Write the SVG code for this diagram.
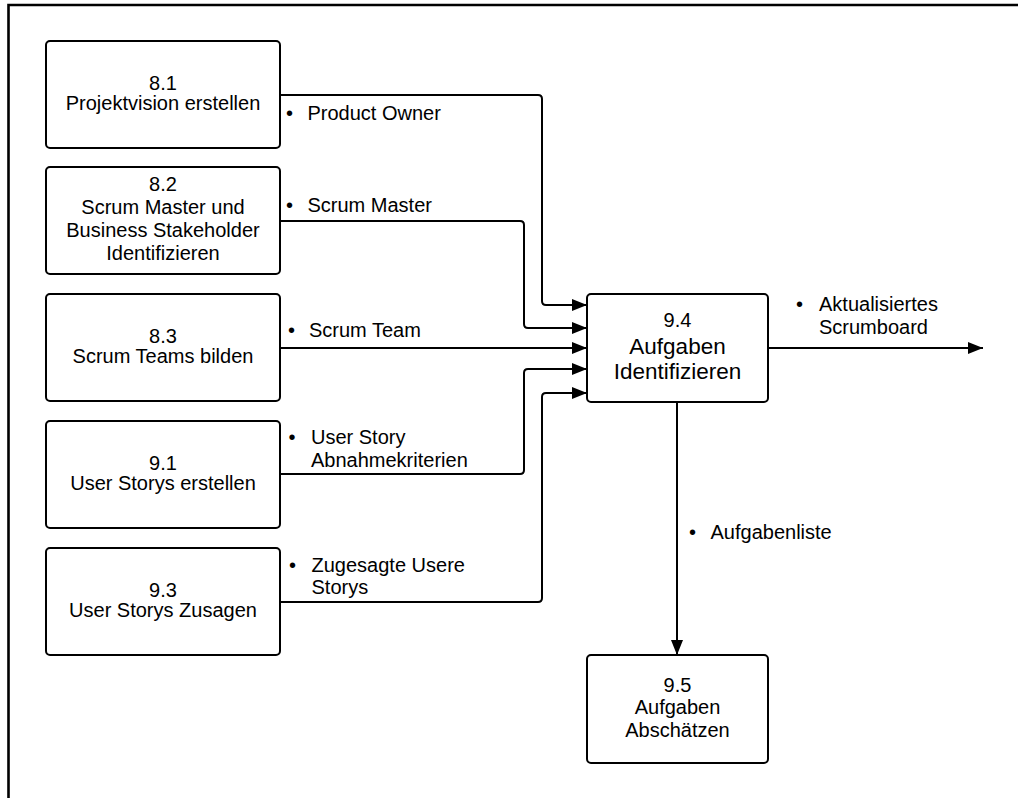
<svg xmlns="http://www.w3.org/2000/svg" width="1018" height="798" viewBox="0 0 1018 798">
<defs>
<style>
.box{fill:#fff;stroke:#000;stroke-width:2}
.t{font-family:"Liberation Sans",Arial,sans-serif;font-size:20px;fill:#000;text-anchor:middle}
.big{font-size:22.5px}
.lbl{font-family:"Liberation Sans",Arial,sans-serif;font-size:20px;fill:#000}
.c{fill:none;stroke:#000;stroke-width:2}
</style>
<marker id="ah" markerUnits="userSpaceOnUse" markerWidth="16" markerHeight="12" refX="15" refY="6" orient="auto">
<path d="M0,0 L15,6 L0,12 z" fill="#000"/>
</marker>
</defs>
<rect width="1018" height="798" fill="#fff"/>
<path d="M8.5,798 V5 H1018" fill="none" stroke="#000" stroke-width="2.6"/>

<g id="connectors">
<path class="c" marker-end="url(#ah)" d="M280,95 H538 Q542,95 542,99 V301 Q542,305 546,305 H587"/>
<path class="c" marker-end="url(#ah)" d="M280,221 H520 Q524,221 524,225 V324 Q524,328 528,328 H587"/>
<path class="c" marker-end="url(#ah)" d="M280,348 H587"/>
<path class="c" marker-end="url(#ah)" d="M280,474 H520 Q524,474 524,470 V373 Q524,369 528,369 H587"/>
<path class="c" marker-end="url(#ah)" d="M280,602 H538 Q542,602 542,598 V397 Q542,393 546,393 H587"/>
<path class="c" marker-end="url(#ah)" d="M768,348 H983"/>
<path class="c" marker-end="url(#ah)" d="M677,402 V655"/>
</g>

<g id="labels">
<text class="lbl" x="286" y="120">•</text><text class="lbl" x="307.5" y="120">Product Owner</text>
<text class="lbl" x="286" y="211.5">•</text><text class="lbl" x="307.5" y="211.5">Scrum Master</text>
<text class="lbl" x="288" y="336.5">•</text><text class="lbl" x="309" y="336.5">Scrum Team</text>
<text class="lbl" x="288.5" y="443.5">•</text><text class="lbl" x="311" y="443.5">User Story</text>
<text class="lbl" x="311" y="466.5">Abnahmekriterien</text>
<text class="lbl" x="289" y="571.5">•</text><text class="lbl" x="311.5" y="571.5">Zugesagte Usere</text>
<text class="lbl" x="311.5" y="594">Storys</text>
<text class="lbl" x="796" y="310.5">•</text><text class="lbl" x="819" y="310.5">Aktualisiertes</text>
<text class="lbl" x="819" y="333.5">Scrumboard</text>
<text class="lbl" x="689" y="538.5">•</text><text class="lbl" x="710.5" y="538.5">Aufgabenliste</text>
</g>

<g id="n81">
<rect class="box" x="46" y="41" width="234" height="107" rx="4"/>
<text class="t" x="163" y="89.5">8.1</text>
<text class="t" x="163" y="110">Projektvision erstellen</text>
</g>
<g id="n82">
<rect class="box" x="46" y="167" width="234" height="107" rx="4"/>
<text class="t" x="163" y="191">8.2</text>
<text class="t" x="163" y="213.5">Scrum Master und</text>
<text class="t" x="163" y="236.5">Business Stakeholder</text>
<text class="t" x="163" y="260">Identifizieren</text>
</g>
<g id="n83">
<rect class="box" x="46" y="294" width="234" height="107" rx="4"/>
<text class="t" x="163" y="342.5">8.3</text>
<text class="t" x="163" y="363">Scrum Teams bilden</text>
</g>
<g id="n91">
<rect class="box" x="46" y="421" width="234" height="107" rx="4"/>
<text class="t" x="163" y="469.5">9.1</text>
<text class="t" x="163" y="490">User Storys erstellen</text>
</g>
<g id="n93">
<rect class="box" x="46" y="548" width="234" height="107" rx="4"/>
<text class="t" x="163" y="596.5">9.3</text>
<text class="t" x="163" y="617">User Storys Zusagen</text>
</g>
<g id="n94">
<rect class="box" x="587" y="294" width="181" height="108" rx="4"/>
<text class="t" x="677.5" y="326.5">9.4</text>
<text class="t big" x="677.5" y="353.5">Aufgaben</text>
<text class="t big" x="677.5" y="379">Identifizieren</text>
</g>
<g id="n95">
<rect class="box" x="587" y="655" width="181" height="108" rx="4"/>
<text class="t" x="677.5" y="691.5">9.5</text>
<text class="t" x="677.5" y="713.5">Aufgaben</text>
<text class="t" x="677.5" y="736.5">Abschätzen</text>
</g>
</svg>
